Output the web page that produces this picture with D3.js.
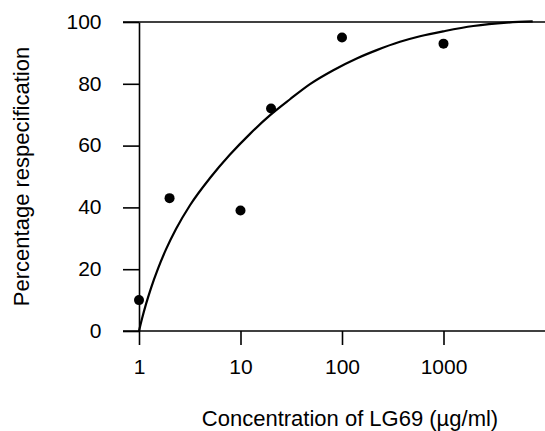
<!DOCTYPE html>
<html>
<head>
<meta charset="utf-8">
<script src="https://cdn.jsdelivr.net/npm/d3@7"></script>
<style>
  html, body { margin: 0; padding: 0; background: #fff; }
  svg { display: block; font-family: "Liberation Sans", Arial, sans-serif; }
</style>
</head>
<body>
<svg id="chart" width="545" height="431"></svg>
<script>
// Data
const concentrations = [1, 2, 10, 20, 100, 1000];
const respecification = [10, 43, 39, 72, 95, 93];

// Fitted curve
const curveX = [1, 1.070, 1.172, 1.313, 1.539, 1.845, 2.315, 3.180, 5.006, 7.881, 12.41, 19.84, 30.74, 48.38, 82.1, 139.6, 219.8, 372.8, 586.8, 1035, 1966, 4195, 7564];
const curveY = [0, 3.95, 8.68, 13.9, 20.2, 26.4, 33.0, 40.7, 49.5, 57.1, 63.8, 70.0, 75.0, 79.9, 84.4, 88.2, 90.9, 93.6, 95.4, 97.1, 98.7, 99.8, 100.2];

const xTicks = [1, 10, 100, 1000];
const yTicks = [0, 20, 40, 60, 80, 100];
const xLabel = "Concentration of LG69 (\u00b5g/ml)";
const yLabel = "Percentage respecification";

const svg = d3.select("#chart");
const x = d3.scaleLog().domain([1, 10000]).range([139, 545]);
const y = d3.scaleLinear().domain([0, 100]).range([331, 22]);

const strokeW = 1.6;
const font = "Liberation Sans, Arial, sans-serif";

// top border line
svg.append("line")
  .attr("x1", 123).attr("x2", 545)
  .attr("y1", y(100)).attr("y2", y(100))
  .attr("stroke", "#000").attr("stroke-width", strokeW);

// Y axis
const yAxis = svg.append("g")
  .attr("transform", `translate(${x(1)},0)`)
  .call(d3.axisLeft(y).tickValues(yTicks).tickSize(16).tickPadding(21.5).tickSizeOuter(0));
yAxis.select(".domain").attr("stroke-width", strokeW);
yAxis.selectAll(".tick line").attr("stroke-width", strokeW);
yAxis.selectAll(".tick text")
  .attr("font-size", 21)
  .attr("font-family", font)
  .attr("fill", "#000")
  .attr("dy", "0.3em");

// X axis
const xAxis = svg.append("g")
  .attr("transform", `translate(0,${y(0)})`)
  .call(d3.axisBottom(x).tickValues(xTicks).tickFormat(d3.format("d")).tickSize(14).tickPadding(14).tickSizeOuter(0));
xAxis.select(".domain").attr("d", `M123,0H545`).attr("stroke-width", strokeW);
xAxis.selectAll(".tick line").attr("stroke-width", strokeW);
xAxis.selectAll(".tick text")
  .attr("font-size", 21)
  .attr("font-family", font)
  .attr("fill", "#000");

// curve
const curvePts = curveX.map((d, i) => [d, curveY[i]]);
svg.append("path")
  .datum(curvePts)
  .attr("fill", "none")
  .attr("stroke", "#000")
  .attr("stroke-width", 2.2)
  .attr("d", d3.line().x(d => x(d[0])).y(d => y(d[1])).curve(d3.curveMonotoneX));

// points
svg.append("g").selectAll("circle")
  .data(concentrations.map((d, i) => [d, respecification[i]]))
  .join("circle")
  .attr("cx", d => x(d[0]))
  .attr("cy", d => y(d[1]))
  .attr("r", 5)
  .attr("fill", "#000");

// axis labels
svg.append("text")
  .attr("x", 350).attr("y", 426)
  .attr("text-anchor", "middle")
  .attr("font-size", 22)
  .attr("fill", "#000")
  .text(xLabel);

svg.append("text")
  .attr("transform", "translate(28.5,176.5) rotate(-90)")
  .attr("text-anchor", "middle")
  .attr("font-size", 22)
  .attr("fill", "#000")
  .text(yLabel);
</script>
</body>
</html>
